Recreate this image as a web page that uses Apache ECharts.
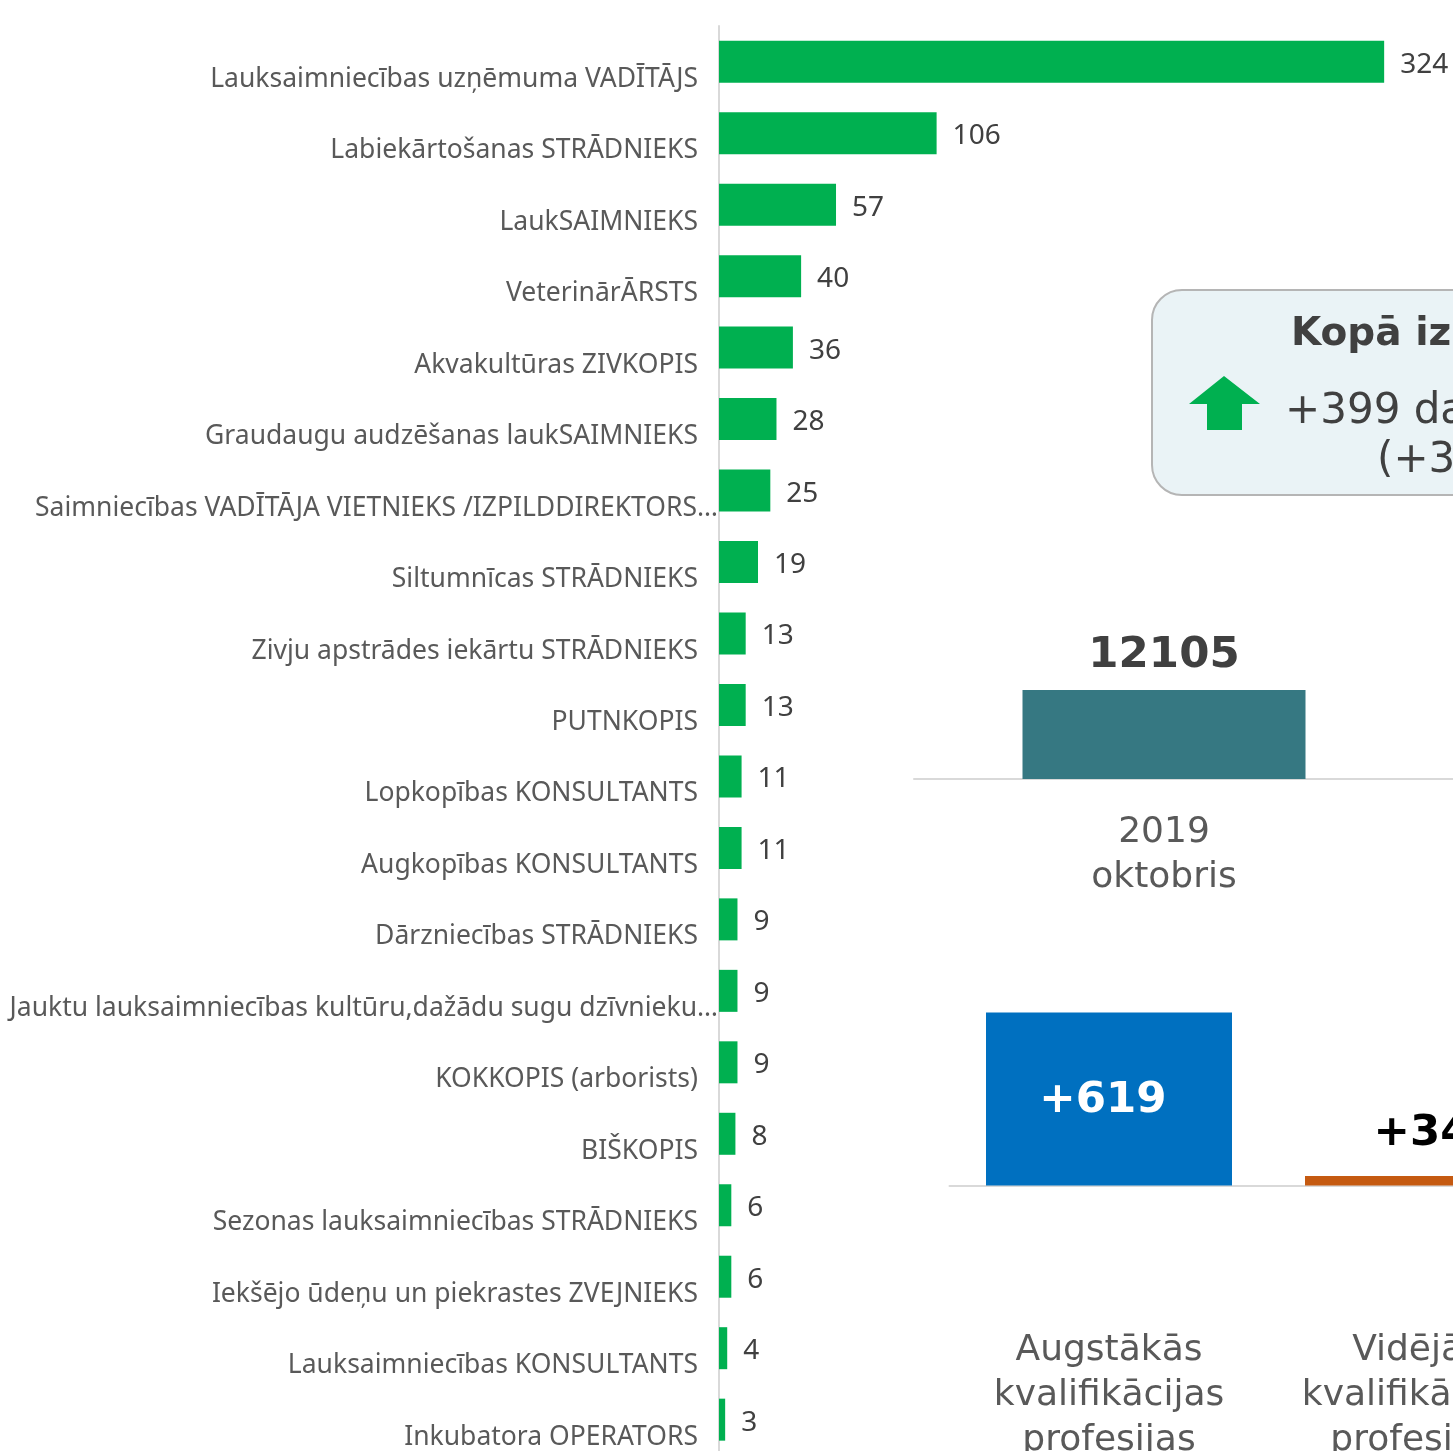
<!DOCTYPE html>
<html>
<head>
<meta charset="utf-8">
<script src="https://cdn.jsdelivr.net/npm/echarts@6/dist/echarts.min.js"></script>
<style>
  html, body { margin: 0; padding: 0; background: #fff; }
  #chart { width: 1453px; height: 1451px; }
</style>
</head>
<body>
<div id="chart"></div>
<script>
  // profesijas ar lielāko pieaugumu
  var professions = [
    'Lauksaimniecības uzņēmuma VADĪTĀJS',
    'Labiekārtošanas STRĀDNIEKS',
    'LaukSAIMNIEKS',
    'VeterinārĀRSTS',
    'Akvakultūras ZIVKOPIS',
    'Graudaugu audzēšanas laukSAIMNIEKS',
    'Saimniecības VADĪTĀJA VIETNIEKS /IZPILDDIREKTORS…',
    'Siltumnīcas STRĀDNIEKS',
    'Zivju apstrādes iekārtu STRĀDNIEKS',
    'PUTNKOPIS',
    'Lopkopības KONSULTANTS',
    'Augkopības KONSULTANTS',
    'Dārzniecības STRĀDNIEKS',
    'Jauktu lauksaimniecības kultūru,dažādu sugu dzīvnieku…',
    'KOKKOPIS (arborists)',
    'BIŠKOPIS',
    'Sezonas lauksaimniecības STRĀDNIEKS',
    'Iekšējo ūdeņu un piekrastes ZVEJNIEKS',
    'Lauksaimniecības KONSULTANTS',
    'Inkubatora OPERATORS'
  ];
  var professionValues = [324, 106, 57, 40, 36, 28, 25, 19, 13, 13, 11, 11, 9, 9, 9, 8, 6, 6, 4, 3];

  // kopējais skaits
  var periods = ['2019\noktobris', '2020\noktobris'];
  var periodValues = [12105, 12504];

  // izmaiņas pa kvalifikācijas grupām
  var groups = ['Augstākās\nkvalifikācijas\nprofesijas', 'Vidējās\nkvalifikācijas\nprofesijas'];
  var groupValues = [619, 34];
  var groupColors = ['#0070C0', '#C55A11'];

  var totalTitle = 'Kopā izmaiņas';
  var totalChange = '+399 darba vietas';
  var totalPct = '(+3,3%)';

  var chart = echarts.init(document.getElementById('chart'));

  var axisGrey = '#D9D9D9';
  var rightFont = '"DejaVu Sans", Verdana, sans-serif';

  // nogrieztie nosaukumi Power BI stiepjas līdz asij
  var professionItems = professions.map(function (name) {
    if (name.charAt(name.length - 1) === '…') {
      return { value: name, textStyle: { verticalAlign: 'top', padding: [4, -20, 0, 0] } };
    }
    return name;
  });

  var groupItems = groups.map(function (name, i) {
    return i === 0 ? name : { value: name, textStyle: { padding: [0, 22, 0, 0] } };
  });

  chart.setOption({
    animation: false,
    grid: [
      { left: 719, width: 698, top: 26, height: 1429.4, outerBoundsMode: 'none' },
      { left: 914, width: 1000, top: 683.4, height: 95.6, outerBoundsMode: 'none' },
      { left: 949.5, width: 638, top: 990, height: 195.5, outerBoundsMode: 'none' }
    ],
    xAxis: [
      { gridIndex: 0, type: 'value', min: 0, max: 340, show: false },
      {
        gridIndex: 1, type: 'category', data: periods,
        axisLine: { lineStyle: { color: axisGrey, width: 2 } },
        axisTick: { show: false },
        axisLabel: { margin: 31, fontSize: 36, lineHeight: 45, color: '#595959', fontFamily: rightFont }
      },
      {
        gridIndex: 2, type: 'category', data: groupItems,
        axisLine: { lineStyle: { color: axisGrey, width: 2 } },
        axisTick: { show: false },
        axisLabel: { margin: 143, fontSize: 36, lineHeight: 45, color: '#595959', fontFamily: rightFont }
      }
    ],
    yAxis: [
      {
        gridIndex: 0, type: 'category', inverse: true, data: professionItems,
        axisLine: { lineStyle: { color: axisGrey, width: 2 } },
        axisTick: { length: 13, lineStyle: { color: axisGrey, width: 2 } },
        axisLabel: {
          margin: 21, fontSize: 26.5, color: '#595959',
          fontFamily: '"Noto Sans", sans-serif',
          verticalAlign: 'top', padding: [4, 0, 0, 0]
        }
      },
      {
        gridIndex: 0, type: 'category', inverse: true, data: professions,
        position: 'left', z: 5,
        axisLine: { show: false },
        axisTick: { inside: true, alignWithLabel: true, length: 8, lineStyle: { color: axisGrey, width: 2 } },
        axisLabel: { show: false }
      },
      { gridIndex: 1, type: 'value', min: 0, max: 13000, show: false },
      { gridIndex: 2, type: 'value', min: 0, max: 700, show: false }
    ],
    series: [
      {
        type: 'bar', xAxisIndex: 0, yAxisIndex: 0,
        data: professionValues,
        barWidth: 42,
        itemStyle: { color: '#00B050' },
        label: {
          show: true, position: 'right', distance: 16, offset: [0, 3],
          fontSize: 28, color: '#404040', fontFamily: '"Noto Sans", sans-serif'
        }
      },
      {
        type: 'bar', xAxisIndex: 1, yAxisIndex: 2,
        data: periodValues,
        barWidth: 283,
        itemStyle: { color: '#367882' },
        label: {
          show: true, position: 'top', distance: 12,
          fontSize: 43.5, fontWeight: 'bold', color: '#404040', fontFamily: rightFont
        }
      },
      {
        type: 'bar', xAxisIndex: 2, yAxisIndex: 3,
        barWidth: 246,
        data: groupValues.map(function (v, i) {
          return {
            value: v,
            itemStyle: { color: groupColors[i] },
            label: i === 0
              ? { position: 'inside', color: '#fff', offset: [-6, 2] }
              : { position: 'top', distance: 20, color: '#000', offset: [-6, 0] }
          };
        }),
        label: {
          show: true, fontSize: 43.5, fontWeight: 'bold', fontFamily: rightFont,
          formatter: function (p) { return '+' + p.value; }
        }
      }
    ],
    graphic: [
      {
        type: 'rect', z: 10,
        shape: { x: 1152, y: 290, width: 420, height: 205, r: 30 },
        style: { fill: '#EAF3F6', stroke: '#B5B5B5', lineWidth: 2 }
      },
      {
        type: 'polygon', z: 11,
        shape: { points: [[1224, 376], [1260, 404], [1242, 404], [1242, 430], [1207, 430], [1207, 404], [1189, 404]] },
        style: { fill: '#00B050' }
      },
      {
        type: 'text', z: 11, x: 1291, y: 335,
        style: { text: totalTitle, font: 'bold 39px "DejaVu Sans", Verdana, sans-serif', fill: '#404040', verticalAlign: 'middle' }
      },
      {
        type: 'text', z: 11, x: 1285, y: 412,
        style: { text: totalChange, font: '42px "DejaVu Sans", Verdana, sans-serif', fill: '#404040', verticalAlign: 'middle' }
      },
      {
        type: 'text', z: 11, x: 1377, y: 461,
        style: { text: totalPct, font: '42px "DejaVu Sans", Verdana, sans-serif', fill: '#404040', verticalAlign: 'middle' }
      }
    ]
  });
</script>
</body>
</html>
